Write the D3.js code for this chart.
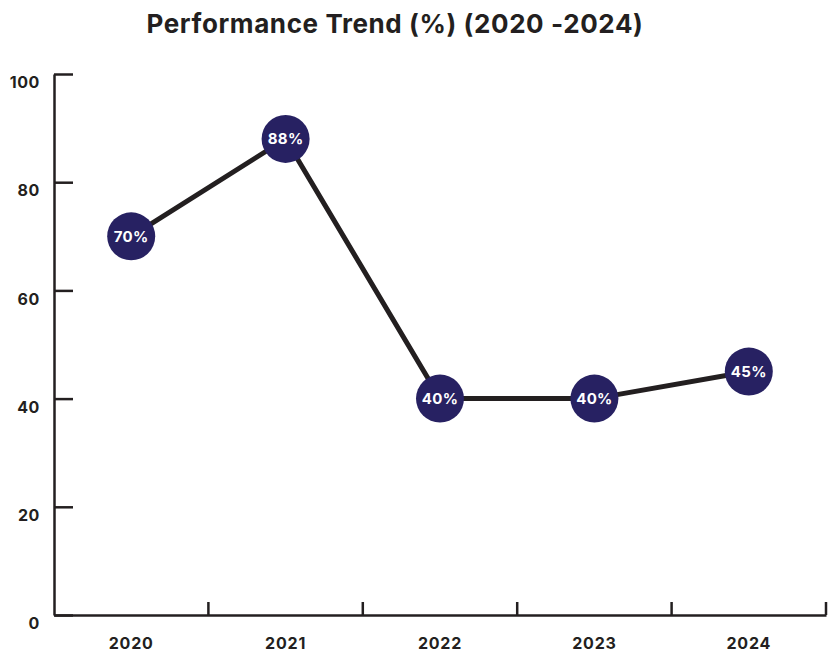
<!DOCTYPE html>
<html>
<head>
<meta charset="utf-8">
<script src="https://cdn.jsdelivr.net/npm/d3@7"></script>
<style>
  body { margin: 0; background: #fff; }
  text { font-family: "Inter", "Open Sans", sans-serif; }
</style>
</head>
<body>
<script>
var years = ["2020", "2021", "2022", "2023", "2024"];
var values = [70, 88, 40, 40, 45];
var yTicks = [0, 20, 40, 60, 80, 100];

var width = 837, height = 657;
var margin = {top: 74, right: 11, bottom: 42, left: 54};
var ink = "#231f20";

var svg = d3.select("body")
            .append("svg")
            .attr("width", width)
            .attr("height", height);

var x = d3.scaleBand()
          .domain(years)
          .range([margin.left, width - margin.right]);

var y = d3.scaleLinear()
          .domain([0, 100])
          .range([height - margin.bottom, margin.top]);

// title
svg.append("text")
   .attr("x", 395)
   .attr("y", 33)
   .attr("text-anchor", "middle")
   .attr("font-size", 26)
   .attr("font-weight", 700)
   .attr("letter-spacing", 0.6)
   .attr("fill", ink)
   .text("Performance Trend (%) (2020 -2024)");

// y axis, ticks pointing inwards
var yAxis = svg.append("g")
   .attr("transform", "translate(" + margin.left + ",0)")
   .call(d3.axisLeft(y).tickValues(yTicks).tickSizeInner(-19).tickSizeOuter(0).tickPadding(14));

yAxis.select(".domain").attr("stroke", ink).attr("stroke-width", 2.5);
yAxis.selectAll(".tick line").attr("stroke", ink).attr("stroke-width", 2.5);
yAxis.selectAll(".tick text")
     .attr("dy", "0.85em")
     .attr("font-size", 16)
     .attr("font-weight", 700)
     .attr("letter-spacing", 0.6)
     .attr("fill", ink)
     .style("font-family", "Inter, sans-serif");

// x axis: baseline, labels at band centres
var xAxis = svg.append("g")
   .attr("transform", "translate(0," + (height - margin.bottom) + ")")
   .call(d3.axisBottom(x).tickSize(0).tickPadding(23));

xAxis.select(".domain").attr("stroke", ink).attr("stroke-width", 2.5);
xAxis.selectAll(".tick text")
     .attr("font-size", 16)
     .attr("font-weight", 700)
     .attr("letter-spacing", 0.8)
     .attr("fill", ink)
     .style("font-family", "Inter, sans-serif");

// x tick marks at band boundaries, pointing up
xAxis.selectAll(".bound")
     .data(years)
     .enter()
     .append("line")
     .attr("x1", function(d){return x(d) + x.bandwidth();})
     .attr("x2", function(d){return x(d) + x.bandwidth();})
     .attr("y1", 0)
     .attr("y2", -13)
     .attr("stroke", ink)
     .attr("stroke-width", 2.5);

// the line
var line = d3.line()
             .x(function(d, i){return x(years[i]) + x.bandwidth() / 2;})
             .y(function(d){return y(d);});

svg.append("path")
   .datum(values)
   .attr("d", line)
   .attr("fill", "none")
   .attr("stroke", ink)
   .attr("stroke-width", 5);

// markers with labels
var points = svg.selectAll(".pt")
                .data(values)
                .enter()
                .append("g")
                .attr("transform", function(d, i){
                    return "translate(" + (x(years[i]) + x.bandwidth() / 2) + "," + y(d) + ")";
                });

points.append("circle")
      .attr("r", 24)
      .attr("fill", "#272162");

points.append("text")
      .attr("text-anchor", "middle")
      .attr("dy", "0.35em")
      .attr("font-size", 15)
      .attr("font-weight", 700)
      .attr("letter-spacing", 0.3)
      .attr("fill", "#fff")
      .text(function(d){return d + "%";});
</script>
</body>
</html>
